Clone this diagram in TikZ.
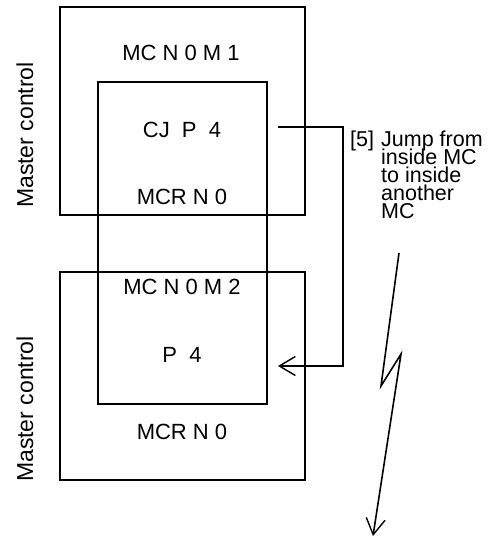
\documentclass[tikz,border=0pt]{standalone}
\usepackage{fontspec}
\setmainfont{Liberation Sans}
\usetikzlibrary{arrows.meta}
\newcommand\myNoteFont{\fontsize{21.5}{18}\selectfont\lineskiplimit=-50pt\relax\lineskip=0pt\relax}
\begin{document}
\begin{tikzpicture}[x=1pt,y=-1pt,
  box/.style={draw,line width=1.3pt,inner sep=0pt,minimum width=#1},
  txt/.style={font=\fontsize{22}{24}\selectfont,inner sep=0pt},
  side/.style={font=\fontsize{23}{24}\selectfont,inner sep=0pt,rotate=90},
  note/.style={font=\myNoteFont,inner sep=0pt,align=left},
  conn/.style={line width=1.6pt,-{Straight Barb[length=16pt,width=19pt,line width=1.4pt]}}]
\useasboundingbox (0,0) rectangle (498,538);
\node[box=245pt,minimum height=208pt] (outerA) at (182.5,111) {};
\node[box=245pt,minimum height=208pt] (outerB) at (182.5,376) {};
\node[box=169pt,minimum height=322pt] (inner) at (182.5,243) {};
\node[txt] (mc1) at (181,53) {MC N 0 M 1};
\node[txt] (cj) at (182,130) {CJ\ \ P\ \ 4};
\node[txt] (mcr1) at (182,197) {MCR N 0};
\node[txt] (mc2) at (182,287) {MC N 0 M 2};
\node[txt] (p4) at (182,355) {P\ \ 4};
\node[txt] (mcr2) at (182,432) {MCR N 0};
\node[side] (lab1) at (25,135) {Master control};
\node[side] (lab2) at (25,409) {Master control};
\node[note,anchor=base west] (n5) at (350,146) {[5]};
\node[note,anchor=north west] (note) at (381,130.3) {Jump from\\inside MC\\to inside\\another\\MC};
\coordinate (s) at (278,127);
\coordinate (t) at (278,366);
\draw[conn] (s) -- ++(65,0) |- (t);
\coordinate (z0) at (399,253);
\coordinate (z1) at (381,386);
\coordinate (z2) at (401,354);
\coordinate (z3) at (373,536);
\draw[conn] (z0) -- (z1) -- (z2) -- (z3);
\end{tikzpicture}
\end{document}
